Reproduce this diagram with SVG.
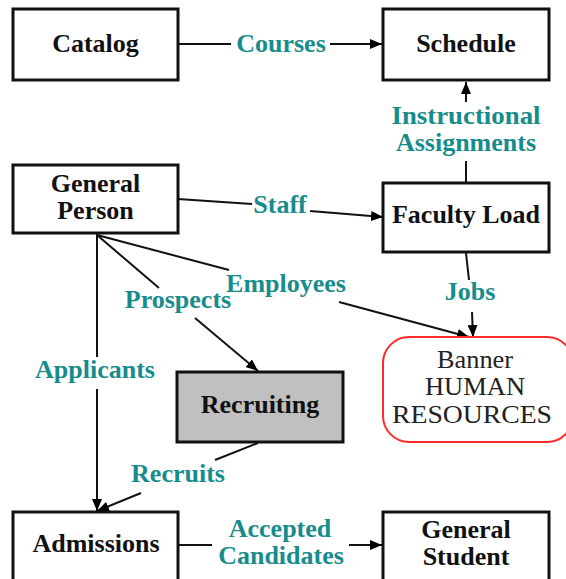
<svg xmlns="http://www.w3.org/2000/svg" width="566" height="579" viewBox="0 0 566 579">
  <defs>
    <marker id="arrow" viewBox="0 0 12 10" refX="12" refY="5" markerWidth="12" markerHeight="10" markerUnits="userSpaceOnUse" orient="auto">
      <path d="M0,0 L12,5 L0,10 Z" fill="#000"/>
    </marker>
    <style>
      .box { fill: #fff; stroke: #111; stroke-width: 3; }
      .shaded { fill: #c0c0c0; }
      .hr { fill: #fff; stroke: #ff2a2a; stroke-width: 2; }
      .name { font-family: "Liberation Serif", "Times New Roman", serif; font-weight: bold; font-size: 26px; fill: #111; text-anchor: middle; }
      .plain { font-family: "Liberation Serif", "Times New Roman", serif; font-size: 25px; fill: #222; text-anchor: middle; }
      .flow { font-family: "Liberation Serif", "Times New Roman", serif; font-weight: bold; font-size: 26px; fill: #178c8c; text-anchor: middle; }
      .link { fill: none; stroke: #111; stroke-width: 2; }
    </style>
  </defs>

  <!-- connectors -->
  <g id="connectors">
    <line class="link" x1="178" y1="44" x2="231" y2="44"/>
    <line class="link" x1="330" y1="44" x2="382" y2="44" marker-end="url(#arrow)"/>
    <text class="flow" x="281" y="52">Courses</text>

    <line class="link" x1="466" y1="183" x2="466" y2="161"/>
    <line class="link" x1="466" y1="102" x2="466" y2="82" marker-end="url(#arrow)"/>
    <text class="flow" x="466" y="124" textLength="149" lengthAdjust="spacingAndGlyphs">Instructional</text>
    <text class="flow" x="466" y="151">Assignments</text>

    <line class="link" x1="178" y1="199" x2="252" y2="204"/>
    <line class="link" x1="310" y1="211" x2="383" y2="217" marker-end="url(#arrow)"/>
    <text class="flow" x="280" y="213">Staff</text>

    <line class="link" x1="466" y1="253" x2="469" y2="280"/>
    <line class="link" x1="472" y1="312" x2="473" y2="337" marker-end="url(#arrow)"/>
    <text class="flow" x="470" y="300">Jobs</text>

    <line class="link" x1="97" y1="235" x2="229" y2="270"/>
    <line class="link" x1="339" y1="302" x2="469" y2="337" marker-end="url(#arrow)"/>
    <text class="flow" x="286" y="292">Employees</text>

    <line class="link" x1="97" y1="235" x2="159" y2="288"/>
    <line class="link" x1="195" y1="318" x2="258" y2="371" marker-end="url(#arrow)"/>
    <text class="flow" x="178" y="308">Prospects</text>

    <line class="link" x1="97" y1="233" x2="97" y2="357"/>
    <line class="link" x1="97" y1="389" x2="97" y2="511" marker-end="url(#arrow)"/>
    <text class="flow" x="95" y="378">Applicants</text>

    <line class="link" x1="258" y1="443" x2="215" y2="460"/>
    <line class="link" x1="141" y1="493" x2="97" y2="511" marker-end="url(#arrow)"/>
    <text class="flow" x="178" y="482">Recruits</text>

    <line class="link" x1="178" y1="545" x2="212" y2="545"/>
    <line class="link" x1="349" y1="545" x2="382" y2="545" marker-end="url(#arrow)"/>
    <text class="flow" x="280" y="537">Accepted</text>
    <text class="flow" x="281" y="564">Candidates</text>
  </g>

  <g id="catalog">
    <rect class="box" x="13" y="9" width="165" height="71"/>
    <text class="name" x="95.5" y="52">Catalog</text>
  </g>

  <g id="schedule">
    <rect class="box" x="383" y="9" width="166" height="71"/>
    <text class="name" x="466" y="52">Schedule</text>
  </g>

  <g id="general-person">
    <rect class="box" x="13" y="165" width="165" height="68"/>
    <text class="name" x="95.5" y="192">General</text>
    <text class="name" x="95.5" y="219">Person</text>
  </g>

  <g id="faculty-load">
    <rect class="box" x="383" y="183" width="166" height="69"/>
    <text class="name" x="466" y="223">Faculty Load</text>
  </g>

  <g id="banner-hr">
    <rect class="hr" x="383" y="337" width="190" height="105" rx="26" ry="26"/>
    <text class="plain" x="475" y="368" textLength="76" lengthAdjust="spacingAndGlyphs">Banner</text>
    <text class="plain" x="475" y="395" textLength="100" lengthAdjust="spacingAndGlyphs">HUMAN</text>
    <text class="plain" x="472" y="423" textLength="160" lengthAdjust="spacingAndGlyphs">RESOURCES</text>
  </g>

  <g id="recruiting">
    <rect class="box shaded" x="177" y="372" width="166" height="70"/>
    <text class="name" x="260" y="413">Recruiting</text>
  </g>

  <g id="admissions">
    <rect class="box" x="13" y="512" width="165" height="72"/>
    <text class="name" x="96" y="552">Admissions</text>
  </g>

  <g id="general-student">
    <rect class="box" x="383" y="512" width="166" height="72"/>
    <text class="name" x="466" y="538">General</text>
    <text class="name" x="466" y="565">Student</text>
  </g>
</svg>
